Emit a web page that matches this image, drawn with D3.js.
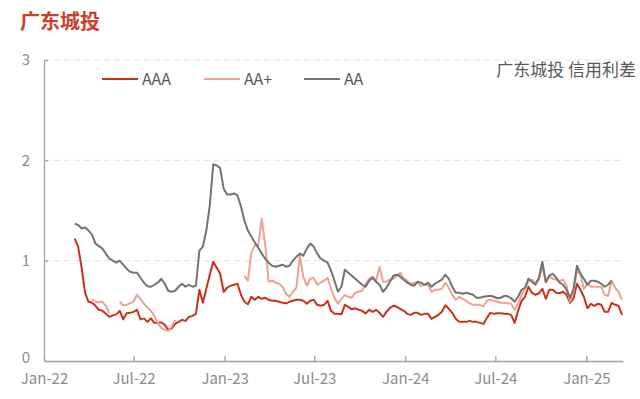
<!DOCTYPE html>
<html>
<head>
<meta charset="utf-8">
<script src="https://cdn.jsdelivr.net/npm/d3@7"></script>
<style>
  body { margin: 0; background: #fff; }
  #chart svg { display: block; font-family: "Noto Sans CJK SC", "Noto Sans", sans-serif; }
</style>
</head>
<body>
<div id="chart"></div>
<script>
// Weekly spreads, first observation on this date
const firstWeek = "2022-03-04";

const aaa = [
  1.22,1.14,0.93,0.68,0.59,0.58,0.55,0.51,0.50,0.47,
  0.44,0.455,0.465,0.50,0.415,0.475,0.48,0.49,0.51,0.415,
  0.425,0.39,0.425,0.38,0.38,0.385,0.36,0.31,0.325,0.37,
  0.39,0.41,0.40,0.44,0.45,0.47,0.71,0.58,0.72,0.86,
  0.99,0.93,0.87,0.69,0.73,0.75,0.76,0.77,0.66,0.59,
  0.565,0.64,0.61,0.64,0.62,0.63,0.61,0.60,0.60,0.59,
  0.58,0.575,0.59,0.60,0.61,0.61,0.60,0.57,0.60,0.61,
  0.56,0.55,0.56,0.60,0.50,0.47,0.47,0.465,0.56,0.54,
  0.515,0.525,0.51,0.50,0.475,0.51,0.49,0.51,0.48,0.44,
  0.49,0.53,0.55,0.54,0.52,0.50,0.47,0.46,0.48,0.48,
  0.46,0.47,0.47,0.42,0.44,0.46,0.49,0.555,0.52,0.48,
  0.42,0.39,0.39,0.39,0.40,0.39,0.39,0.38,0.37,0.43,
  0.48,0.47,0.475,0.475,0.47,0.47,0.46,0.38,0.50,0.60,
  0.64,0.74,0.68,0.66,0.675,0.72,0.62,0.71,0.71,0.68,
  0.675,0.69,0.66,0.58,0.625,0.77,0.71,0.64,0.525,0.57,
  0.55,0.57,0.56,0.49,0.49,0.58,0.56,0.55,0.46
];

const aaPlus = [
  null,null,null,null,null,0.615,0.59,0.585,0.59,0.55,
  0.48,null,null,0.59,0.555,0.56,0.575,0.59,0.66,0.62,
  0.57,0.535,0.50,0.45,0.375,0.33,0.31,0.30,0.34,0.41,
  null,null,null,null,null,null,null,null,null,null,
  null,null,null,null,null,null,null,null,null,0.85,
  0.80,1.08,1.15,1.15,1.42,1.16,0.79,0.80,0.78,0.77,
  0.74,0.67,0.64,0.69,0.73,1.05,0.84,0.75,0.82,0.83,
  0.76,0.78,0.80,0.83,0.72,0.63,0.57,0.62,0.66,0.64,
  0.63,0.68,0.69,0.70,0.77,0.82,0.84,0.80,0.94,0.79,
  0.79,0.81,0.82,0.85,0.88,0.82,0.80,0.77,0.78,0.78,
  0.75,0.76,0.76,0.69,0.71,0.71,0.72,0.78,0.73,0.66,
  0.61,0.64,0.62,0.60,0.575,0.56,0.56,0.56,0.545,0.60,
  0.61,0.60,0.59,0.58,0.58,0.575,0.57,0.51,0.57,0.66,
  0.72,0.80,0.81,0.78,0.81,0.95,0.78,0.84,0.82,0.81,
  0.80,0.81,0.75,0.59,0.70,0.90,0.86,0.72,0.77,0.74,
  0.74,0.74,0.74,0.66,0.65,0.80,0.73,0.69,0.61
];

const aa = [
  1.37,1.355,1.32,1.33,1.30,1.26,1.17,1.145,1.12,1.07,
  1.02,1.00,0.98,1.00,0.96,0.92,0.89,0.88,0.88,0.83,
  0.78,0.745,0.74,0.76,0.78,0.82,0.77,0.70,0.69,0.70,
  0.74,0.77,0.74,0.76,0.74,0.75,1.10,1.14,1.30,1.55,
  1.96,1.95,1.92,1.72,1.66,1.66,1.67,1.65,1.54,1.40,
  1.30,1.24,1.18,1.13,1.07,1.02,0.98,0.95,0.94,0.95,
  0.96,0.94,0.95,1.00,1.04,1.07,1.05,1.12,1.17,1.14,
  1.07,1.02,1.00,0.98,0.90,0.80,0.69,0.74,0.91,0.88,
  0.85,0.82,0.79,0.76,0.74,0.80,0.83,0.79,0.76,0.69,
  0.73,0.79,0.85,0.86,0.84,0.81,0.78,0.76,0.75,0.79,
  0.78,0.76,0.78,0.74,0.77,0.79,0.81,0.86,0.82,0.74,
  0.68,0.68,0.67,0.68,0.67,0.66,0.63,0.63,0.64,0.645,
  0.65,0.64,0.625,0.63,0.65,0.645,0.625,0.59,0.64,0.71,
  0.73,0.82,0.79,0.76,0.83,0.99,0.79,0.85,0.87,0.83,
  0.78,0.76,0.71,0.63,0.72,0.95,0.87,0.82,0.76,0.80,
  0.80,0.79,0.77,0.74,0.76,0.80,null,null,null
];

const seriesNames = ["AAA", "AA+", "AA"];
const seriesColors = ["#c8321c", "#eba393", "#737373"];
const yTicks = [0, 1, 2, 3];

const width = 640;
const height = 399;
const margin = { top: 60, right: 17, bottom: 38, left: 44 };

const parse = d3.timeParse("%Y-%m-%d");
const start = parse(firstWeek);
const dates = aaa.map((_, i) => d3.timeWeek.offset(start, i));

const series = [aaa, aaPlus, aa].map((vals, k) => ({
  name: seriesNames[k],
  color: seriesColors[k],
  points: vals.map((v, i) => ({ date: dates[i], value: v }))
}));

const svg = d3.select("#chart")
  .append("svg")
  .attr("width", width)
  .attr("height", height);

const x = d3.scaleTime()
  .domain([new Date(2022, 0, 1), new Date(2025, 2, 16)])
  .range([margin.left, width - margin.right]);

const y = d3.scaleLinear()
  .domain([0, 3])
  .range([height - margin.bottom, margin.top]);

// Title
svg.append("text")
  .attr("x", 20)
  .attr("y", 29)
  .style("font-size", "20px")
  .style("font-weight", "bold")
  .style("fill", "#c8402a")
  .text("广东城投");

// Dashed grid lines
svg.append("g")
  .selectAll("line")
  .data(yTicks.filter(d => d > 0))
  .join("line")
  .attr("x1", margin.left)
  .attr("x2", width - margin.right)
  .attr("y1", d => y(d))
  .attr("y2", d => y(d))
  .attr("stroke", "#e3e3e3")
  .attr("stroke-dasharray", "6,4");

// Axes
const xAxis = d3.axisBottom(x)
  .ticks(d3.timeMonth.every(6))
  .tickFormat(d3.timeFormat("%b-%y"))
  .tickSizeInner(-5)
  .tickSizeOuter(0)
  .tickPadding(12);

const yAxis = d3.axisLeft(y)
  .tickValues(yTicks)
  .tickFormat(d3.format("d"))
  .tickSizeInner(-4)
  .tickSizeOuter(0)
  .tickPadding(14);

const gx = svg.append("g")
  .attr("transform", `translate(0,${height - margin.bottom})`)
  .call(xAxis);

const gy = svg.append("g")
  .attr("transform", `translate(${margin.left},0)`)
  .call(yAxis);

[gx, gy].forEach(g => {
  g.select(".domain").attr("stroke", "#a3a3a3").attr("stroke-width", 1.3);
  g.selectAll(".tick line").attr("stroke", "#a3a3a3").attr("stroke-width", 1.3);
  g.selectAll(".tick text")
    .attr("fill", "#8c8c8c")
    .style("font-size", "15px")
    .style("font-family", "'Noto Sans CJK SC', 'Noto Sans', sans-serif");
});

// the "0" label sits a touch higher so it clears the first date label
gy.selectAll(".tick text").filter(d => d === 0).attr("dy", "0.1em");

// Lines
const line = d3.line()
  .defined(d => d.value != null)
  .x(d => x(d.date))
  .y(d => y(d.value));

svg.append("g")
  .selectAll("path")
  .data(series)
  .join("path")
  .attr("fill", "none")
  .attr("stroke", d => d.color)
  .attr("stroke-width", 2)
  .attr("stroke-linejoin", "round")
  .attr("d", d => line(d.points));

// Legend
const legendX = [102, 204, 304];
const legend = svg.append("g")
  .selectAll("g")
  .data(series)
  .join("g")
  .attr("transform", (d, i) => `translate(${legendX[i]},79)`);

legend.append("line")
  .attr("x1", 0)
  .attr("x2", 36)
  .attr("stroke", d => d.color)
  .attr("stroke-width", 2);

legend.append("text")
  .attr("x", 40)
  .attr("dy", "0.35em")
  .style("font-size", "16px")
  .style("fill", "#595959")
  .text(d => d.name);

// Note, top right
svg.append("text")
  .attr("x", 636)
  .attr("y", 76)
  .attr("text-anchor", "end")
  .style("font-size", "17px")
  .style("fill", "#595959")
  .text("广东城投 信用利差");
</script>
</body>
</html>
